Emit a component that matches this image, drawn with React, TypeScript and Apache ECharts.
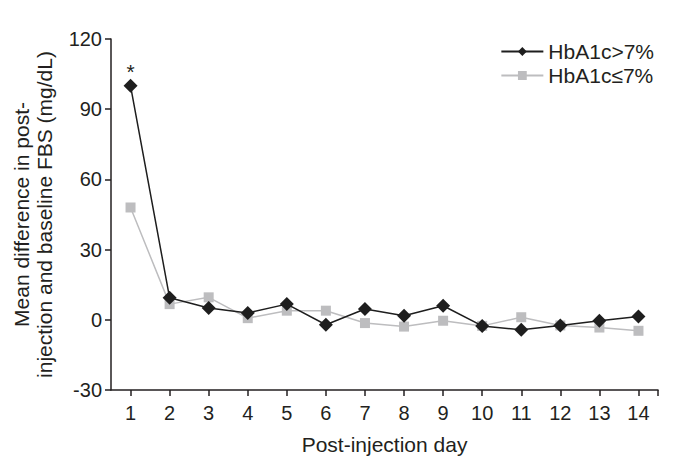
import React, { useEffect, useRef } from "react";
import * as echarts from "echarts";

const days = [1, 2, 3, 4, 5, 6, 7, 8, 9, 10, 11, 12, 13, 14];
const highValues = [100, 9.4, 5.0, 2.9, 6.7, -2.1, 4.6, 1.7, 6.0, -2.6, -4.3, -2.4, -0.4, 1.4];
const lowValues = [48, 6.7, 9.6, 0.7, 3.9, 3.9, -1.4, -2.9, -0.4, -2.6, 1.1, -2.4, -3.3, -4.7];
const yTicks = [-30, 0, 30, 60, 90, 120];
const seriesNames = ["HbA1c>7%", "HbA1c\u22647%"];
const significantMark = "*";

export default function App() {
  const ref = useRef<HTMLDivElement>(null);
  useEffect(() => {
    if (!ref.current) return;
    const chart = echarts.init(ref.current, null, { renderer: "svg" });
    const font = "Arial, 'Liberation Sans', sans-serif";
    const txt = "#231f20";
    chart.setOption({
      animation: false,
      textStyle: { fontFamily: font },
      grid: { left: 111, right: 21, top: 39, bottom: 77, containLabel: false },
      legend: {
        top: 36,
        right: 20,
        orient: "vertical",
        itemWidth: 42,
        itemHeight: 11,
        itemGap: 3,
        textStyle: { fontSize: 21, color: txt, fontFamily: font },
        data: seriesNames,
      },
      xAxis: {
        type: "value",
        min: 0.5,
        max: 14.5,
        name: "Post-injection day",
        nameLocation: "middle",
        nameGap: 44,
        nameTextStyle: { fontSize: 21, color: txt },
        splitLine: { show: false },
        axisLine: { onZero: false, lineStyle: { color: txt, width: 1.5 } },
        axisTick: {
          show: true,
          length: 6,
          lineStyle: { color: txt, width: 1.5 },
          customValues: [...days, 14.5],
        },
        axisLabel: {
          fontSize: 20,
          color: txt,
          margin: 13,
          customValues: days,
        },
      },
      yAxis: {
        type: "value",
        min: -30,
        max: 120,
        interval: 30,
        name: "Mean difference in post-\ninjection and baseline FBS (mg/dL)",
        nameLocation: "middle",
        nameGap: 55,
        nameTextStyle: { fontSize: 21, color: txt, lineHeight: 23 },
        splitLine: { show: false },
        axisLine: { show: true, onZero: false, lineStyle: { color: txt, width: 1.5 } },
        axisTick: { show: true, length: 6, lineStyle: { color: txt, width: 1.5 } },
        axisLabel: {
          fontSize: 20,
          color: txt,
          margin: 9,
          customValues: yTicks,
        },
      },
      series: [
        {
          name: seriesNames[1],
          type: "line",
          data: days.map((d, i) => [d, lowValues[i]]),
          symbol: "rect",
          symbolSize: 10,
          itemStyle: { color: "#bdbdbf" },
          lineStyle: { color: "#bdbdbf", width: 1.5 },
          z: 2,
        },
        {
          name: seriesNames[0],
          type: "line",
          data: days.map((d, i) =>
            i === 0
              ? {
                  value: [d, highValues[i]],
                  label: {
                    show: true,
                    position: "top",
                    formatter: significantMark,
                    fontSize: 21,
                    color: txt,
                    distance: -3,
                  },
                }
              : [d, highValues[i]]
          ),
          symbol: "diamond",
          symbolSize: 14,
          itemStyle: { color: "#1e1e1e" },
          lineStyle: { color: "#1e1e1e", width: 1.5 },
          z: 3,
        },
      ],
    });
    return () => chart.dispose();
  }, []);
  return (
    <div
      ref={ref}
      style={{ width: 679, height: 467, position: "absolute", left: 0, top: 0 }}
    />
  );
}
